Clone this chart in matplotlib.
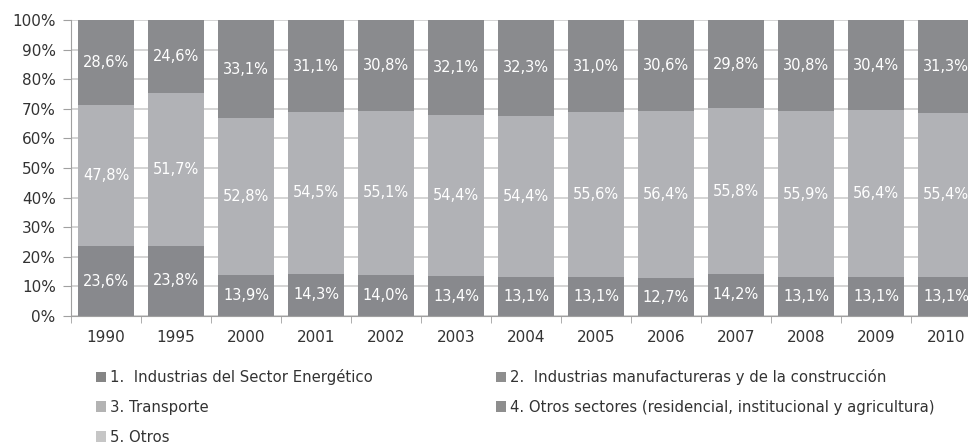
import numpy as np
import matplotlib
matplotlib.use("Agg")
import matplotlib.pyplot as plt
from matplotlib.patches import Patch

years = ["1990", "1995", "2000", "2001", "2002", "2003", "2004",
         "2005", "2006", "2007", "2008", "2009", "2010"]

energetico = [23.6, 23.8, 13.9, 14.3, 14.0, 13.4, 13.1, 13.1, 12.7, 14.2, 13.1, 13.1, 13.1]
manufactureras = [0.0] * 13
transporte = [47.8, 51.7, 52.8, 54.5, 55.1, 54.4, 54.4, 55.6, 56.4, 55.8, 55.9, 56.4, 55.4]
otros_sectores = [28.6, 24.6, 33.1, 31.1, 30.8, 32.1, 32.3, 31.0, 30.6, 29.8, 30.8, 30.4, 31.3]
otros = [0.0] * 13

names = ["1.  Industrias del Sector Energético",
         "2.  Industrias manufactureras y de la construcción",
         "3. Transporte",
         "4. Otros sectores (residencial, institucional y agricultura)",
         "5. Otros"]
bar_colors = ["#88898d", "#8c8c8c", "#b1b2b6", "#8a8b8e", "#c4c4c4"]
legend_colors = ["#858585", "#8e8e8e", "#b3b3b3", "#8e8e8e", "#c6c6c6"]

series = [np.array(energetico), np.array(manufactureras), np.array(transporte),
          np.array(otros_sectores), np.array(otros)]
total = sum(series)

fig = plt.figure(figsize=(9.68, 4.43), dpi=100)
ax = fig.add_axes([71 / 968, 127 / 443, 910 / 968, 296 / 443])

x = np.arange(len(years))
bottom = np.zeros(len(years))
for vals, col in zip(series, bar_colors):
    share = vals / total * 100
    ax.bar(x, share, 0.8, bottom=bottom, color=col, zorder=2)
    for xi, v, s, b in zip(x, vals, share, bottom):
        if v > 0:
            ax.text(xi, b + s / 2, f"{v:.1f}%".replace(".", ","), ha="center", va="center",
                    color="white", fontsize=10.5, zorder=3)
    bottom += share

ax.set_xlim(-0.5, len(years) - 0.5)
ax.set_ylim(0, 100)
ax.set_yticks(np.arange(0, 101, 10))
ax.set_yticklabels([f"{v}%" for v in range(0, 101, 10)], fontsize=11, color="#333333")
ax.set_xticks(x)
ax.set_xticklabels(years, fontsize=11, color="#333333")
ax.set_xticks(np.arange(-0.5, len(years), 1), minor=True)
ax.tick_params(axis="x", which="major", length=0, pad=10)
ax.tick_params(axis="x", which="minor", length=5, color="#a0a0a0", direction="out")
ax.tick_params(axis="y", length=6, color="#a0a0a0", pad=5)
ax.yaxis.grid(True, color="#cdcdcd", linewidth=1.2, zorder=0)
ax.set_axisbelow(True)
for side in ["top", "right"]:
    ax.spines[side].set_visible(False)
ax.spines["left"].set_color("#a0a0a0")
ax.spines["bottom"].set_color("#a0a0a0")

handles = [Patch(facecolor=c, edgecolor="none") for c in legend_colors]
leg_kw = dict(frameon=False, fontsize=10.7, handlelength=0.7, handleheight=0.7,
              handletextpad=0.25, labelspacing=1.0, borderaxespad=0, borderpad=0,
              loc="upper left", labelcolor="#333333")
leg1 = fig.legend([handles[0], handles[2], handles[4]], [names[0], names[2], names[4]],
                  bbox_to_anchor=(96 / 968, 1 - 369 / 443), **leg_kw)
leg2 = fig.legend([handles[1], handles[3]], [names[1], names[3]],
                  bbox_to_anchor=(496 / 968, 1 - 369 / 443), **leg_kw)

fig.savefig("out.png", dpi=100)
